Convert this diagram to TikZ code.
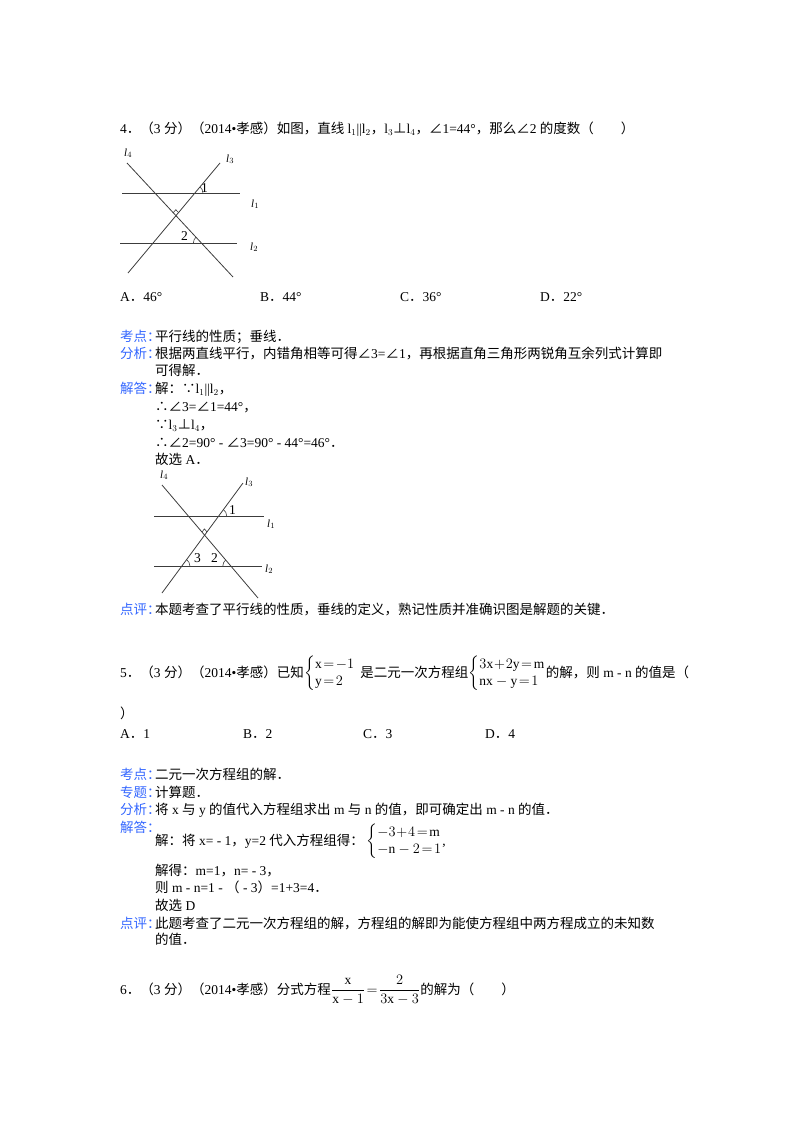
\documentclass[tikz,border=0pt]{standalone}
\usepackage{amsmath}
\usepackage{fontspec}
\setmainfont{Liberation Serif}
\newfontfamily\cjk{Noto Sans CJK SC}
\usetikzlibrary{calc}
\XeTeXinterchartokenstate=1
\newXeTeXintercharclass\CJKcls
\newcount\tmpc
\tmpc="3000 \loop\XeTeXcharclass\tmpc=\CJKcls \advance\tmpc 1 \ifnum\tmpc<"3040 \repeat
\tmpc="4E00 \loop\XeTeXcharclass\tmpc=\CJKcls \advance\tmpc 1 \ifnum\tmpc<"A000 \repeat
\tmpc="FF00 \loop\XeTeXcharclass\tmpc=\CJKcls \advance\tmpc 1 \ifnum\tmpc<"FFF0 \repeat
\XeTeXcharclass"2220=\CJKcls
\XeTeXcharclass"22A5=\CJKcls
\XeTeXcharclass"2234=\CJKcls
\XeTeXcharclass"2235=\CJKcls
\XeTeXinterchartoks 0 \CJKcls={\begingroup\cjk}
\XeTeXinterchartoks 4095 \CJKcls={\begingroup\cjk}
\XeTeXinterchartoks \CJKcls 0={\endgroup}
\XeTeXinterchartoks \CJKcls 4095={\endgroup}
\definecolor{lab}{RGB}{51,102,255}
\definecolor{ln}{RGB}{60,60,60}
\newcommand{\rmm}[1]{\mathrm{#1}}
\begin{document}
\begin{tikzpicture}[x=1pt,y=-1pt,
  tx/.style={anchor=base west,inner sep=0pt,font=\fontsize{13.5}{16}\selectfont},
  lb/.style={tx,text=lab},
  gl/.style={draw=ln,line width=0.8pt},
  ll/.style={anchor=base west,inner sep=0pt,font=\fontsize{11}{12}\selectfont\itshape},
  ang/.style={draw=ln,line width=0.6pt}]
\useasboundingbox (0,0) rectangle (800,1132);
% Q4
\node[tx] (q4) at (120,133) {4．（3 分）（2014•孝感）如图，直线 l$_1$||l$_2$，l$_3$⊥l$_4$，∠1=44°，那么∠2 的度数（　　）};
% figure 1
\coordinate (a1) at (122,193); \coordinate (a2) at (240,193);
\coordinate (b1) at (120,243); \coordinate (b2) at (237,243);
\coordinate (d1) at (127,163); \coordinate (d2) at (233,277);
\coordinate (c1) at (128,273); \coordinate (c2) at (220,163);
\draw[gl] (a1)--(a2); \draw[gl] (b1)--(b2); \draw[gl] (d1)--(d2); \draw[gl] (c1)--(c2);
\coordinate (P1) at (intersection of a1--a2 and c1--c2);
\coordinate (P2) at (intersection of b1--b2 and d1--d2);
\coordinate (X) at (intersection of c1--c2 and d1--d2);
\draw[ang] ([shift={(0:8)}]P1) arc[start angle=0,end angle=-50,radius=8];
\draw[ang] ([shift={(-133:8)}]P2) arc[start angle=-133,end angle=-180,radius=8];
\draw[ang] ($(X)+(-50:4)$) -- ($(X)+(-50:4)+(-133:4)$) -- ($(X)+(-133:4)$);
\node[ll] (l4a) at (124,156) {l$_4$};
\node[ll] (l3a) at (226,162) {l$_3$};
\node[ll] (l1a) at (251,207) {l$_1$};
\node[ll] (l2a) at (250,250) {l$_2$};
\node[tx] (n1a) at (201,192) {1};
\node[tx] (n2a) at (181,240) {2};
% options
\node[tx] (oA) at (120,301) {A．46°};
\node[tx] (oB) at (260,301) {B．44°};
\node[tx] (oC) at (400,301) {C．36°};
\node[tx] (oD) at (540,301) {D．22°};
% analysis
\node[lb] (k1) at (120,341) {考点：};
\node[tx] at (155,341) {平行线的性质；垂线．};
\node[lb] (f1) at (120,358) {分析：};
\node[tx] at (155,358) {根据两直线平行，内错角相等可得∠3=∠1，再根据直角三角形两锐角互余列式计算即};
\node[tx] at (155,375) {可得解．};
\node[lb] (j1) at (120,393) {解答：};
\node[tx] at (155,393) {解：∵l$_1$||l$_2$，};
\node[tx] at (155,411) {∴∠3=∠1=44°，};
\node[tx] at (155,429) {∵l$_3$⊥l$_4$，};
\node[tx] at (155,447) {∴∠2=90° - ∠3=90° - 44°=46°．};
\node[tx] at (155,464) {故选 A．};
% figure 2
\coordinate (e1) at (154,516); \coordinate (e2) at (264,516);
\coordinate (f1) at (154,566); \coordinate (f2) at (262,566);
\coordinate (g1) at (162,485); \coordinate (g2) at (258,598);
\coordinate (h1) at (162,593); \coordinate (h2) at (243,483);
\draw[gl] (e1)--(e2); \draw[gl] (f1)--(f2); \draw[gl] (g1)--(g2); \draw[gl] (h1)--(h2);
\coordinate (Q1) at (intersection of e1--e2 and h1--h2);
\coordinate (Q2) at (intersection of f1--f2 and g1--g2);
\coordinate (Q3) at (intersection of f1--f2 and h1--h2);
\coordinate (Y) at (intersection of g1--g2 and h1--h2);
\draw[ang] ([shift={(0:8)}]Q1) arc[start angle=0,end angle=-54,radius=8];
\draw[ang] ([shift={(0:8)}]Q3) arc[start angle=0,end angle=-54,radius=8];
\draw[ang] ([shift={(-130:8)}]Q2) arc[start angle=-130,end angle=-180,radius=8];
\draw[ang] ($(Y)+(-54:4)$) -- ($(Y)+(-54:4)+(-130:4)$) -- ($(Y)+(-130:4)$);
\node[ll] (l4b) at (160,478) {l$_4$};
\node[ll] (l3b) at (245,485) {l$_3$};
\node[ll] (l1b) at (267,527) {l$_1$};
\node[ll] (l2b) at (265,572) {l$_2$};
\node[tx] (n1b) at (229,514) {1};
\node[tx] (n3b) at (194,562) {3};
\node[tx] (n2b) at (211,562) {2};
\node[lb] (d1l) at (120,614) {点评：};
\node[tx] at (155,614) {本题考查了平行线的性质，垂线的定义，熟记性质并准确识图是解题的关键．};
% Q5
\node[tx] (q5) at (120,677) {5．（3 分）（2014•孝感）已知};
\node[tx] (s1) at (q5.base east) {$\left\{\begin{array}{@{}l@{}}\rmm{x}\!=\!-1\\[1pt] \rmm{y}\!=\!2\end{array}\right.$\,\,};
\node[tx] (q5b) at (s1.base east) {是二元一次方程组};
\node[tx] (s2) at (q5b.base east) {$\left\{\begin{array}{@{}l@{}}3\rmm{x}\!+\!2\rmm{y}\!=\!\rmm{m}\\[1pt] \rmm{nx}-\rmm{y}\!=\!1\end{array}\right.$};
\node[tx] at (s2.base east) {的解，则 m - n 的值是（};
\node[tx] at (120,718) {）};
\node[tx] at (120,738) {A．1};
\node[tx] at (243,738) {B．2};
\node[tx] at (363,738) {C．3};
\node[tx] at (485,738) {D．4};
\node[lb] at (120,779) {考点：};
\node[tx] at (155,779) {二元一次方程组的解．};
\node[lb] at (120,797) {专题：};
\node[tx] at (155,797) {计算题．};
\node[lb] at (120,814) {分析：};
\node[tx] at (155,814) {将 x 与 y 的值代入方程组求出 m 与 n 的值，即可确定出 m - n 的值．};
\node[lb] at (120,832) {解答：};
\node[tx] (j5) at (155,845) {解：将 x= - 1，y=2 代入方程组得：};
\node[tx] at (j5.base east) {\,$\left\{\begin{array}{@{}l@{}}-3\!+\!4\!=\!\rmm{m}\\[1pt] -\rmm{n}-2\!=\!1\end{array}\right.$,};
\node[tx] at (155,875) {解得：m=1，n= - 3，};
\node[tx] at (155,892) {则 m - n=1 - （ - 3）=1+3=4．};
\node[tx] at (155,910) {故选 D};
\node[lb] at (120,928) {点评：};
\node[tx] at (155,928) {此题考查了二元一次方程组的解，方程组的解即为能使方程组中两方程成立的未知数};
\node[tx] at (155,944) {的值．};
% Q6
\node[tx] (q6) at (120,994) {6．（3 分）（2014•孝感）分式方程};
\node[tx] (fr) at (q6.base east) {$\dfrac{\rmm{x}}{\rmm{x}-1}\!=\!\dfrac{2}{3\rmm{x}-3}$};
\node[tx] at (fr.base east) {的解为（　　）};
\end{tikzpicture}
\end{document}
